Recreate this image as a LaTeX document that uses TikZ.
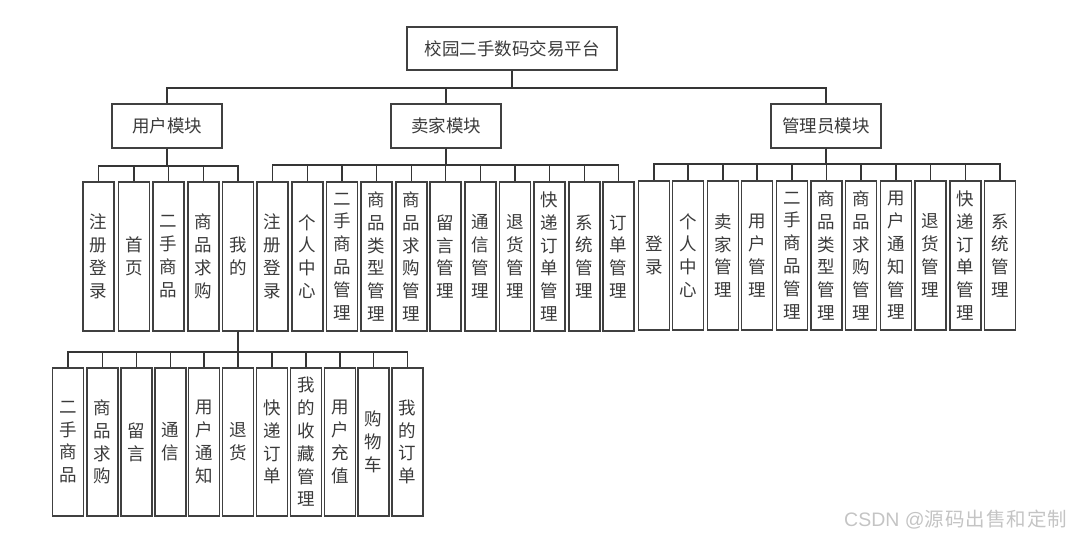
\documentclass[tikz,border=0pt]{standalone}
\usepackage{fontspec}
\newfontfamily\cjk{Noto Sans CJK SC}
\newfontfamily\wmlat{Liberation Sans}
\definecolor{boxc}{HTML}{404040}
\definecolor{linec}{HTML}{353535}
\definecolor{txtc}{HTML}{3A3A3A}
\definecolor{wmc}{HTML}{C4C4C4}
\tikzset{
  box/.style={draw=boxc, line width=1.6pt, inner sep=0pt, text=txtc, align=center,
    font=\cjk\fontsize{17.5}{22.8}\selectfont},
  topbox/.style={box, minimum width=110pt, minimum height=44pt},
  rootbox/.style={box, minimum width=210pt, minimum height=43pt},
  leaf/.style={box, minimum width=31pt, minimum height=149pt},
  leafb/.style={box, minimum width=31pt, minimum height=148pt},
  conn/.style={draw=linec, line width=1.5pt},
}
\begin{document}
\begin{tikzpicture}[x=1pt,y=-1pt]
\useasboundingbox (0,0) rectangle (1069,536);
% root and modules
\node[rootbox] (r) at (512,48.5) {校园二手数码交易平台};
\node[topbox] (u) at (167,126) {用户模块};
\node[topbox] (s) at (446,126) {卖家模块};
\node[topbox] (a) at (826,126) {管理员模块};
\foreach \m in {u,s,a}
  \draw[conn] (r.south) -- ++(0,17) -| (\m.north);
% user leaves
\foreach \x/\t [count=\i] in {98.5/{注\\册\\登\\录},134/{首\\页},168.5/{二\\手\\商\\品},203.5/{商\\品\\求\\购},238/{我\\的}}{
  \node[leaf] (u\i) at (\x,256.5) {\t};
  \draw[conn] (u.south) -- ++(0,17) -| (u\i.north);
}
% seller leaves
\foreach \x/\t [count=\i] in {272.5/{注\\册\\登\\录},307.5/{个\\人\\中\\心},342/{二\\手\\商\\品\\管\\理},376.5/{商\\品\\类\\型\\管\\理},411.5/{商\\品\\求\\购\\管\\理},445.5/{留\\言\\管\\理},480.5/{通\\信\\管\\理},515/{退\\货\\管\\理},549.5/{快\\递\\订\\单\\管\\理},584.5/{系\\统\\管\\理},618.5/{订\\单\\管\\理}}{
  \node[leaf] (s\i) at (\x,256.5) {\t};
  \draw[conn] (s.south) -- ++(0,16) -| (s\i.north);
}
% admin leaves
\foreach \x/\t [count=\i] in {654/{登\\录},688/{个\\人\\中\\心},723/{卖\\家\\管\\理},757/{用\\户\\管\\理},792/{二\\手\\商\\品\\管\\理},826.5/{商\\品\\类\\型\\管\\理},861/{商\\品\\求\\购\\管\\理},896/{用\\户\\通\\知\\管\\理},930.5/{退\\货\\管\\理},965.5/{快\\递\\订\\单\\管\\理},1000/{系\\统\\管\\理}}{
  \node[leaf] (a\i) at (\x,255.5) {\t};
  \draw[conn] (a.south) -- ++(0,15) -| (a\i.north);
}
% my-page leaves
\foreach \x/\t [count=\i] in {68/{二\\手\\商\\品},102.5/{商\\品\\求\\购},136.5/{留\\言},170.5/{通\\信},204/{用\\户\\通\\知},238/{退\\货},272/{快\\递\\订\\单},306/{我\\的\\收\\藏\\管\\理},340/{用\\户\\充\\值},373.5/{购\\物\\车},407.5/{我\\的\\订\\单}}{
  \node[leafb] (m\i) at (\x,442) {\t};
  \draw[conn] (u5.south) -- ++(0,20) -| (m\i.north);
}
% watermark
\node[anchor=west, inner sep=0pt, text=wmc, font=\fontsize{19.5}{22}\selectfont] (wm) at (844,520) {\wmlat CSDN @\cjk\addfontfeatures{LetterSpace=5}源码出售和定制};
\end{tikzpicture}
\end{document}
